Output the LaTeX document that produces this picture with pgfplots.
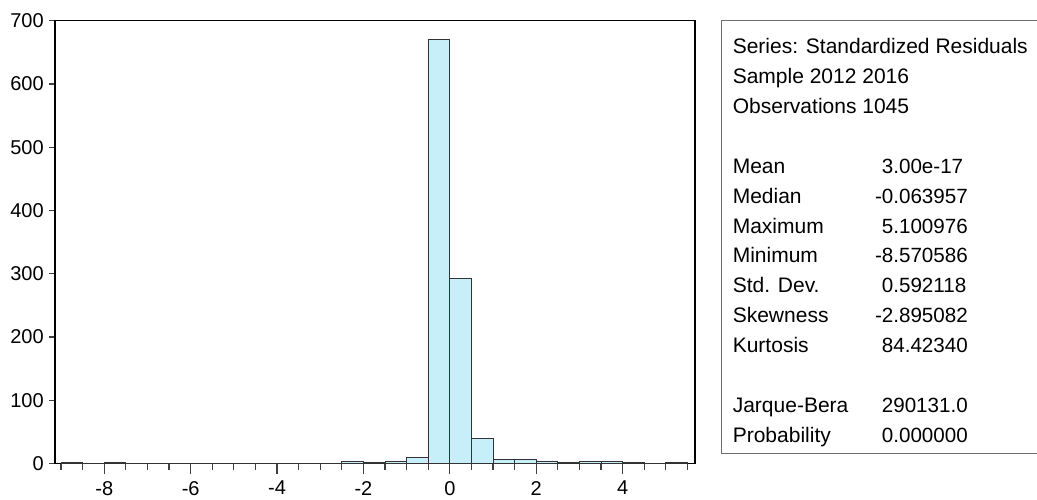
\documentclass[border=0pt]{standalone}
\usepackage{pgfplots}
\pgfplotsset{compat=1.18}
\usepackage{fontspec}
\setmainfont{Liberation Sans}
\definecolor{barfill}{RGB}{198,239,250}
\definecolor{boxline}{RGB}{110,110,110}

\begin{document}
\begin{tikzpicture}[x=1pt,y=1pt]
\useasboundingbox (0,0) rectangle (518.5,249.5);
\begin{axis}[
    at={(27.5pt,17.75pt)}, anchor=south west,
    scale only axis,
    width=320pt, height=221.4pt,
    xmin=-9.14, xmax=5.674,
    ymin=0, ymax=700,
    xtick={-9,-8.5,...,5.5},
    xticklabels={},
    extra x ticks={-8,-6,...,4},
    extra x tick style={major tick length=5.3pt},
    ytick={0,100,...,700},
    xtick pos=bottom, ytick pos=left,
    tick align=outside,
    major tick length=3.1pt,
    every tick/.style={black!75, line width=0.6pt},
    axis line style={black, line width=0.75pt},
    /pgf/number format/assume math mode=true,
    tick label style={font=\fontsize{10}{12}\selectfont},
    yticklabel style={xshift=1pt},
]
\addplot[ybar interval, fill=barfill, draw=black!80, line width=0.45pt] coordinates {
    (-9,1) (-8.5,0) (-8,1) (-7.5,0) (-7,0) (-6.5,0) (-6,0) (-5.5,0)
    (-5,0) (-4.5,0) (-4,0) (-3.5,0) (-3,0) (-2.5,3) (-2,2) (-1.5,4)
    (-1,9) (-0.5,671) (0,293) (0.5,39) (1,7) (1.5,6) (2,4) (2.5,1)
    (3,3) (3.5,3) (4,1) (4.5,0) (5,1) (5.5,0)
};
\end{axis}
% statistics panel
\draw[boxline, line width=0.5pt] (522,239.15) -- (360.8,239.15) -- (360.8,23) -- (522,23);
\begin{scope}[every node/.style={anchor=base west, inner sep=0pt, font=\fontsize{10.5}{12}\selectfont}]
\node at (366.2,222.5) {Series: Standardized Residuals};
\node at (366.2,207.6) {Sample 2012 2016};
\node at (366.2,192.7) {Observations 1045};
\node at (366.2,162.8) {Mean};
\node at (366.2,147.9) {Median};
\node at (366.2,133.0) {Maximum};
\node at (366.2,118.1) {Minimum};
\node at (366.2,103.1) {Std. Dev.};
\node at (366.2,88.2) {Skewness};
\node at (366.2,73.3) {Kurtosis};
\node at (366.2,43.4) {Jarque-Bera};
\node at (366.2,28.5) {Probability};
\end{scope}
\begin{scope}[every node/.style={anchor=base west, inner sep=0pt, font=\fontsize{10.3}{12}\selectfont}]
\node at (437.3,162.8) {\phantom{-}3.00e-17};
\node at (437.3,147.9) {-0.063957};
\node at (437.3,133.0) {\phantom{-}5.100976};
\node at (437.3,118.1) {-8.570586};
\node at (437.3,103.1) {\phantom{-}0.592118};
\node at (437.3,88.2) {-2.895082};
\node at (437.3,73.3) {\phantom{-}84.42340};
\node at (437.3,43.4) {\phantom{-}290131.0};
\node at (437.3,28.5) {\phantom{-}0.000000};
\end{scope}
\end{tikzpicture}
\end{document}
